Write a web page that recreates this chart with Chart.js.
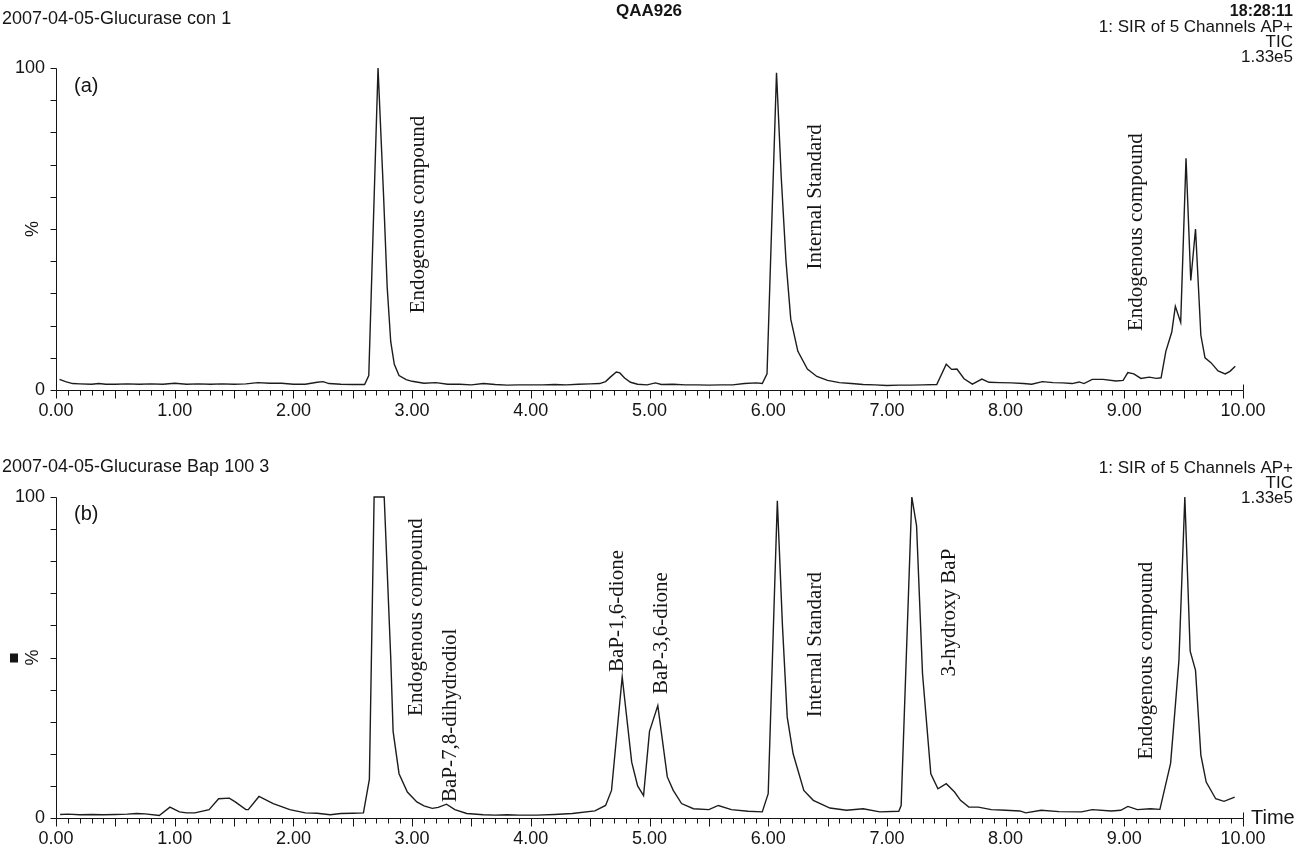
<!DOCTYPE html>
<html>
<head>
<meta charset="utf-8">
<script src="https://cdn.jsdelivr.net/npm/chart.js@4.4.1/dist/chart.umd.min.js"></script>
<style>
  body { margin: 0; background: #fff; }
  canvas { display: block; position: absolute; left: 0; }
  #chartA { top: 0; }
  #chartB { top: 425px; }
</style>
</head>
<body>
<canvas id="chartA" width="1298" height="425"></canvas>
<canvas id="chartB" width="1298" height="425"></canvas>
<script>
//---------------------------------------------------------------------------
// (a) 2007-04-05-Glucurase con 1 -- retention time (min) / relative intensity (%)
const timesA = [0.03, 0.08, 0.14, 0.2, 0.3, 0.36, 0.42, 0.5, 0.6, 0.7, 0.8, 0.9, 1.0, 1.1, 1.2, 1.3, 1.4, 1.5, 1.6, 1.7,
  1.8, 1.9, 2.0, 2.1, 2.2, 2.25, 2.3, 2.4, 2.5, 2.6, 2.635, 2.713, 2.76, 2.79, 2.82, 2.85, 2.89, 2.95, 3.0, 3.1,
  3.2, 3.3, 3.4, 3.5, 3.6, 3.7, 3.8, 3.9, 4.0, 4.1, 4.2, 4.3, 4.4, 4.5, 4.58, 4.63, 4.67, 4.72, 4.75, 4.79,
  4.84, 4.9, 4.98, 5.05, 5.1, 5.2, 5.3, 5.4, 5.5, 5.6, 5.7, 5.8, 5.9, 5.95, 5.99, 6.07, 6.11, 6.15, 6.19, 6.25,
  6.33, 6.41, 6.5, 6.6, 6.7, 6.8, 6.9, 7.0, 7.1, 7.2, 7.3, 7.42, 7.5, 7.545, 7.59, 7.65, 7.72, 7.8, 7.86, 7.95,
  8.05, 8.15, 8.22, 8.31, 8.4, 8.48, 8.56, 8.62, 8.66, 8.73, 8.82, 8.93, 8.99, 9.03, 9.08, 9.14, 9.21, 9.27, 9.31, 9.35,
  9.4, 9.43, 9.475, 9.52, 9.56, 9.6, 9.645, 9.68, 9.73, 9.79, 9.85, 9.89, 9.935];
const valuesA = [3.3, 2.6, 2.0, 1.9, 1.8, 2.0, 1.8, 1.8, 1.9, 1.8, 1.9, 1.8, 2.1, 1.8, 1.9, 1.8, 1.9, 1.8, 1.9, 2.3,
  2.1, 2.1, 1.8, 1.8, 2.4, 2.6, 2.0, 1.8, 1.7, 1.7, 4.5, 100, 60, 32, 15, 8, 4.5, 3.2, 2.7, 2.1,
  2.3, 1.8, 1.8, 1.6, 2.0, 1.7, 1.5, 1.6, 1.6, 1.6, 1.7, 1.6, 1.8, 1.9, 2.0, 2.6, 4.0, 5.6, 5.3, 3.7,
  2.4, 1.8, 1.6, 2.2, 1.7, 1.8, 1.6, 1.6, 1.5, 1.6, 1.6, 2.0, 2.2, 2.0, 5.0, 98.5, 66, 40, 22, 12,
  6.5, 4.2, 3.0, 2.3, 2.0, 1.7, 1.6, 1.4, 1.5, 1.5, 1.6, 1.7, 8.0, 6.4, 6.5, 3.5, 1.8, 3.4, 2.4, 2.3,
  2.2, 2.0, 1.8, 2.6, 2.3, 2.2, 2.0, 2.5, 2.0, 3.3, 3.3, 2.8, 3.0, 5.4, 5.0, 3.6, 4.0, 3.6, 3.8, 12,
  18, 26, 21, 72, 34, 50, 17, 10, 8.5, 5.9, 5.0, 5.8, 7.4];

// (b) 2007-04-05-Glucurase Bap 100 3
const timesB = [0.035, 0.1, 0.2, 0.3, 0.4, 0.5, 0.6, 0.68, 0.75, 0.87, 0.96, 1.04, 1.1, 1.17, 1.29, 1.37, 1.46, 1.51, 1.6, 1.62,
  1.71, 1.83, 1.97, 2.1, 2.2, 2.31, 2.4, 2.5, 2.59, 2.64, 2.68, 2.765, 2.82, 2.84, 2.89, 2.96, 3.04, 3.1, 3.17, 3.22,
  3.29, 3.36, 3.46, 3.6, 3.7, 3.8, 3.9, 4.05, 4.2, 4.35, 4.54, 4.63, 4.68, 4.77, 4.85, 4.9, 4.95, 5.0, 5.07, 5.15,
  5.2, 5.27, 5.37, 5.5, 5.58, 5.69, 5.83, 5.95, 6.0, 6.077, 6.12, 6.16, 6.21, 6.3, 6.38, 6.52, 6.66, 6.8, 6.94, 7.1,
  7.12, 7.21, 7.25, 7.3, 7.37, 7.43, 7.5, 7.57, 7.62, 7.69, 7.77, 7.88, 8.0, 8.12, 8.17, 8.3, 8.45, 8.64, 8.73, 8.89,
  8.97, 9.03, 9.11, 9.22, 9.3, 9.39, 9.43, 9.46, 9.51, 9.555, 9.6, 9.645, 9.69, 9.77, 9.84, 9.93];
const valuesB = [1.1, 1.2, 1.0, 1.1, 1.0, 1.1, 1.2, 1.4, 1.3, 0.8, 3.4, 1.9, 1.6, 1.6, 2.6, 6.0, 6.2, 5.0, 2.6, 2.6,
  6.7, 4.5, 2.6, 1.6, 1.5, 1.0, 1.4, 1.5, 1.6, 12, 100, 100, 50, 27, 13.8, 8.1, 5.0, 3.8, 3.0, 3.3,
  4.3, 2.6, 1.4, 1.0, 0.9, 1.0, 0.9, 0.9, 1.1, 1.4, 2.2, 3.9, 8.6, 44, 17.4, 10, 7.0, 27, 35, 12.8,
  8.6, 4.5, 2.9, 2.6, 3.9, 2.6, 2.1, 1.9, 7.6, 98.8, 60, 31.5, 20, 8.6, 5.5, 3.1, 2.4, 2.9, 1.9, 2.1,
  3.9, 100, 91, 45, 13.8, 9.1, 10.7, 8.1, 5.5, 3.4, 3.4, 2.6, 2.4, 2.2, 1.6, 2.4, 2.0, 1.9, 2.6, 2.2,
  2.4, 3.6, 2.6, 2.9, 2.7, 17, 35, 49, 100, 52, 46, 19.6, 11.2, 6.0, 5.2, 6.5];

// peak annotations: label, time (min), % at label centre
const peakLabelsA = ['Endogenous compound', 'Internal Standard', 'Endogenous compound'];
const peakTimesA = [3.05, 6.40, 9.10];
const peakLevelsA = [54.5, 60, 49];
const peakLabelsB = ['Endogenous compound', 'BaP-7,8-dihydrodiol', 'BaP-1,6-dione', 'BaP-3,6-dione',
  'Internal Standard', '3-hydroxy BaP', 'Endogenous compound'];
const peakTimesB = [3.04, 3.32, 4.73, 5.10, 6.40, 7.53, 9.19];
const peakLevelsB = [62.6, 32, 64.5, 57.6, 54, 64, 49];

const SANS = '"Liberation Sans", Arial, sans-serif';
const SERIF = '"Liberation Serif", "Times New Roman", serif';
const INK = '#151515';
//---------------------------------------------------------------------------
// axes, ticks and texts in the MassLynx style
const decor = {
    id: 'decor',
    afterDraw(chart, args, opts) {
        const ctx = chart.ctx;
        const xs = chart.scales.x, ys = chart.scales.y;
        const x0 = Math.round(xs.getPixelForValue(0)) + 0.5;
        const x1 = Math.round(xs.getPixelForValue(10)) + 0.5;
        const y0 = Math.round(ys.getPixelForValue(0)) + 0.5;
        const y1 = Math.round(ys.getPixelForValue(100)) + 0.5;
        ctx.save();
        ctx.strokeStyle = INK;
        ctx.lineWidth = 1;
        ctx.beginPath();
        ctx.moveTo(x0, y1); ctx.lineTo(x0, y0); ctx.lineTo(x1, y0);
        for (let i = 0; i <= 100; i++) {
            const px = Math.round(xs.getPixelForValue(i / 10)) + 0.5;
            ctx.moveTo(px, y0);
            ctx.lineTo(px, y0 + (i % 5 === 0 ? 8 : 5));
        }
        ctx.moveTo(x1, y0 - 6); ctx.lineTo(x1, y0);
        for (let v = 0; v <= 100; v += 10) {
            const py = Math.round(ys.getPixelForValue(v)) + 0.5;
            ctx.moveTo(x0 - 6, py); ctx.lineTo(x0, py);
        }
        ctx.stroke();

        ctx.fillStyle = INK;
        // "%" on the y axis
        ctx.save();
        ctx.translate(33, ys.getPixelForValue(50));
        ctx.rotate(-Math.PI / 2);
        ctx.font = '18px ' + SANS;
        ctx.textAlign = 'center';
        ctx.textBaseline = 'middle';
        ctx.fillText('%', 0, 0);
        ctx.restore();
        if (opts.marker) {
            ctx.fillRect(10, ys.getPixelForValue(50) - 4, 8, 9);
        }

        // peak names
        ctx.font = '21px ' + SERIF;
        ctx.textAlign = 'center';
        ctx.textBaseline = 'middle';
        opts.labels.forEach((txt, i) => {
            ctx.save();
            ctx.translate(xs.getPixelForValue(opts.times[i]), ys.getPixelForValue(opts.levels[i]));
            ctx.rotate(-Math.PI / 2);
            ctx.fillText(txt, 0, 0);
            ctx.restore();
        });

        // header lines
        opts.texts.forEach(t => {
            ctx.font = t.font;
            ctx.textAlign = t.align;
            ctx.textBaseline = 'middle';
            ctx.fillText(t.text, t.x, t.y);
        });
        ctx.restore();
    }
};
//---------------------------------------------------------------------------
function makeChart(id, times, values, top, xHeight, decorOpts) {
    const points = times.map((t, i) => ({ x: t, y: values[i] }));
    return new Chart(document.getElementById(id), {
        type: 'line',
        data: {
            datasets: [{
                data: points,
                borderColor: '#1c1c1c',
                borderWidth: 1.4,
                pointRadius: 0,
                tension: 0,
                fill: false,
                clip: false
            }]
        },
        options: {
            responsive: false,
            animation: false,
            layout: { padding: { left: 0, right: 55, top: top, bottom: 0 } },
            plugins: { legend: { display: false }, tooltip: { enabled: false }, decor: decorOpts },
            scales: {
                x: {
                    type: 'linear', min: 0, max: 10,
                    grid: { display: false, drawTicks: false },
                    border: { display: false },
                    ticks: {
                        stepSize: 1, autoSkip: false, maxRotation: 0, padding: 10, color: INK,
                        font: { family: SANS, size: 18 },
                        callback: v => v.toFixed(2)
                    },
                    afterFit: s => { s.height = xHeight; }
                },
                y: {
                    min: 0, max: 100,
                    grid: { display: false, drawTicks: false },
                    border: { display: false },
                    ticks: {
                        stepSize: 100, padding: 11, color: INK,
                        font: { family: SANS, size: 18 }
                    },
                    afterFit: s => { s.width = 56; }
                }
            }
        },
        plugins: [decor]
    });
}

const hdr = '17px ' + SANS;
makeChart('chartA', timesA, valuesA, 68, 35, {
    labels: peakLabelsA, times: peakTimesA, levels: peakLevelsA, marker: false,
    texts: [
        { text: 'QAA926', x: 649, y: 11, align: 'center', font: 'bold 17px ' + SANS },
        { text: '18:28:11', x: 1293, y: 12, align: 'right', font: 'bold 16px ' + SANS },
        { text: '2007-04-05-Glucurase con 1', x: 2, y: 19, align: 'left', font: '18px ' + SANS },
        { text: '1: SIR of 5 Channels AP+', x: 1293, y: 27, align: 'right', font: hdr },
        { text: 'TIC', x: 1293, y: 42, align: 'right', font: hdr },
        { text: '1.33e5', x: 1293, y: 57, align: 'right', font: hdr },
        { text: '(a)', x: 74, y: 86, align: 'left', font: '20px ' + SANS }
    ]
});
makeChart('chartB', timesB, valuesB, 72, 32, {
    labels: peakLabelsB, times: peakTimesB, levels: peakLevelsB, marker: true,
    texts: [
        { text: '2007-04-05-Glucurase Bap 100 3', x: 2, y: 42, align: 'left', font: '18px ' + SANS },
        { text: '1: SIR of 5 Channels AP+', x: 1293, y: 43, align: 'right', font: hdr },
        { text: 'TIC', x: 1293, y: 58, align: 'right', font: hdr },
        { text: '1.33e5', x: 1293, y: 73, align: 'right', font: hdr },
        { text: '(b)', x: 74, y: 89, align: 'left', font: '20px ' + SANS },
        { text: 'Time', x: 1251, y: 393, align: 'left', font: '20px ' + SANS }
    ]
});
</script>
</body>
</html>
